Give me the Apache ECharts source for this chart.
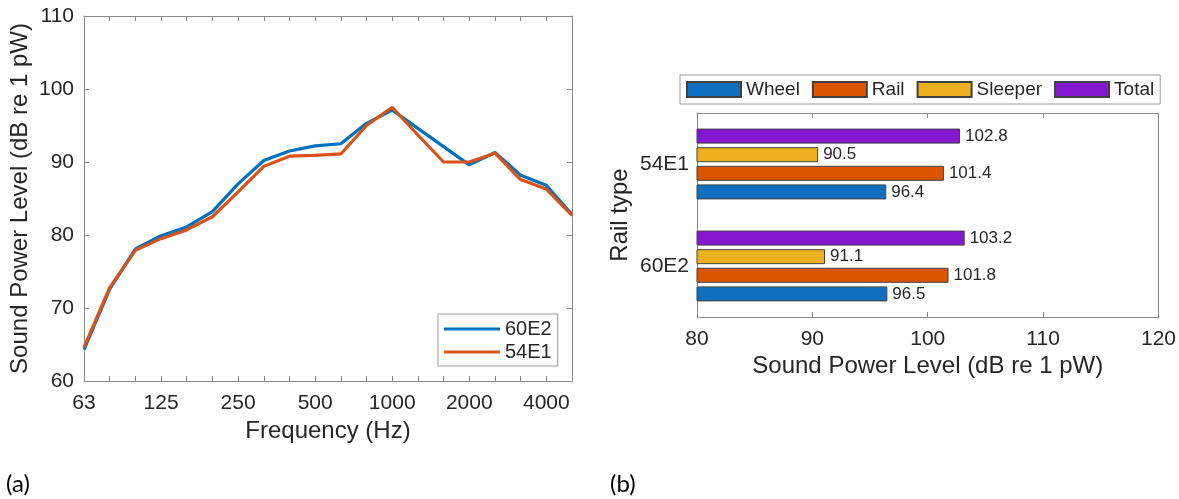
<!DOCTYPE html>
<html>
<head>
<meta charset="utf-8">
<script src="https://cdn.jsdelivr.net/npm/echarts@6/dist/echarts.min.js"></script>
<style>
  html, body { margin: 0; padding: 0; background: #fff; }
  #main { width: 1179px; height: 499px; }
</style>
</head>
<body>
<div id="main"></div>
<script>
// (a) spectrum, third-octave bands
const freqs = ['63', '80', '100', '125', '160', '200', '250', '315', '400', '500',
  '630', '800', '1000', '1250', '1600', '2000', '2500', '3150', '4000', '5000'];
const lw60E2 = [64.3, 72.6, 78.1, 79.9, 81.1, 83.2, 87.0, 90.2, 91.5, 92.2,
  92.5, 95.3, 97.1, 94.6, 92.1, 89.6, 91.3, 88.2, 86.8, 82.8];
const lw54E1 = [64.6, 72.8, 77.9, 79.5, 80.7, 82.5, 85.9, 89.4, 90.8, 90.9,
  91.1, 95.0, 97.5, 93.7, 90.0, 90.0, 91.2, 87.6, 86.3, 82.7];

// (b) totals per rail type
const railTypes = ['60E2', '54E1'];
const wheel = [96.5, 96.4];
const rail = [101.8, 101.4];
const sleeper = [91.1, 90.5];
const total = [103.2, 102.8];

const txt = '#262626';
const axisCol = '#8a8a8a';
const font = 'Liberation Sans, Arial, sans-serif';

let chart = echarts.init(document.getElementById('main'), null, {renderer: 'canvas'});

function barSeries(name, data, color) {
  return {
    name: name,
    type: 'bar',
    xAxisIndex: 2,
    yAxisIndex: 2,
    data: data,
    barWidth: 15,
    barGap: '24%',
    itemStyle: {color: color, borderColor: '#404040', borderWidth: 1},
    label: {
      show: true,
      position: 'right',
      distance: 5,
      color: txt,
      fontFamily: font,
      fontSize: 17
    }
  };
}

let option = {
  animation: false,
  textStyle: {fontFamily: font},
  grid: [
    {left: 84, top: 16, width: 488, height: 365},
    {left: 697, top: 113, width: 464, height: 204}
  ],
  xAxis: [
    {
      gridIndex: 0,
      type: 'category',
      data: freqs,
      boundaryGap: false,
      name: 'Frequency (Hz)',
      nameLocation: 'middle',
      nameGap: 38,
      nameTextStyle: {color: txt, fontSize: 24, fontFamily: font},
      axisLine: {lineStyle: {color: axisCol}},
      axisTick: {inside: true, length: 5, interval: 0, lineStyle: {color: axisCol}},
      axisLabel: {interval: 2, color: txt, fontSize: 21, fontFamily: font, margin: 12},
      splitLine: {show: false}
    },
    {
      gridIndex: 0,
      type: 'category',
      data: freqs,
      boundaryGap: false,
      position: 'top',
      axisLine: {lineStyle: {color: axisCol}},
      axisTick: {inside: true, length: 5, interval: 0, lineStyle: {color: axisCol}},
      axisLabel: {show: false}
    },
    {
      gridIndex: 1,
      type: 'value',
      min: 80,
      max: 120,
      interval: 10,
      name: 'Sound Power Level (dB re 1 pW)',
      nameLocation: 'middle',
      nameGap: 37,
      nameTextStyle: {color: txt, fontSize: 24, fontFamily: font},
      axisLine: {show: true, lineStyle: {color: axisCol}},
      axisTick: {show: true, inside: true, length: 5, lineStyle: {color: axisCol}},
      axisLabel: {color: txt, fontSize: 21, fontFamily: font, margin: 12},
      splitLine: {show: false}
    },
    {
      gridIndex: 1,
      type: 'value',
      min: 80,
      max: 120,
      interval: 10,
      position: 'top',
      axisLine: {show: true, lineStyle: {color: axisCol}},
      axisTick: {show: true, inside: true, length: 5, lineStyle: {color: axisCol}},
      axisLabel: {show: false},
      splitLine: {show: false}
    }
  ],
  yAxis: [
    {
      gridIndex: 0,
      type: 'value',
      min: 60,
      max: 110,
      interval: 10,
      name: 'Sound Power Level (dB re 1 pW)',
      nameLocation: 'middle',
      nameGap: 52,
      nameTextStyle: {color: txt, fontSize: 24, fontFamily: font},
      axisLine: {show: true, lineStyle: {color: axisCol}},
      axisTick: {show: true, inside: true, length: 5, lineStyle: {color: axisCol}},
      axisLabel: {color: txt, fontSize: 21, fontFamily: font, margin: 10},
      splitLine: {show: false}
    },
    {
      gridIndex: 0,
      type: 'value',
      min: 60,
      max: 110,
      interval: 10,
      position: 'right',
      axisLine: {show: true, lineStyle: {color: axisCol}},
      axisTick: {show: true, inside: true, length: 5, lineStyle: {color: axisCol}},
      axisLabel: {show: false},
      splitLine: {show: false}
    },
    {
      gridIndex: 1,
      type: 'category',
      data: railTypes,
      name: 'Rail type',
      nameLocation: 'middle',
      nameGap: 65,
      nameTextStyle: {color: txt, fontSize: 24, fontFamily: font},
      axisLine: {lineStyle: {color: axisCol}},
      axisTick: {inside: true, length: 5, alignWithLabel: true, lineStyle: {color: axisCol}},
      axisLabel: {color: txt, fontSize: 21, fontFamily: font, margin: 8}
    },
    {
      gridIndex: 1,
      type: 'category',
      data: railTypes,
      position: 'right',
      axisLine: {lineStyle: {color: axisCol}},
      axisTick: {inside: true, length: 5, alignWithLabel: true, lineStyle: {color: axisCol}},
      axisLabel: {show: false}
    }
  ],
  legend: [
    {
      data: ['60E2', '54E1'],
      orient: 'vertical',
      left: 438,
      top: 314,
      padding: [5, 6, 4, 6],
      icon: 'rect',
      itemWidth: 56,
      itemHeight: 3,
      itemGap: 3,
      borderColor: '#9a9a9a',
      borderWidth: 1,
      textStyle: {color: txt, fontSize: 20, fontFamily: font}
    },
    {
      data: ['Wheel', 'Rail', 'Sleeper', 'Total'],
      orient: 'horizontal',
      left: 680,
      top: 75,
      padding: [5, 6],
      icon: 'rect',
      itemWidth: 54,
      itemHeight: 15,
      itemGap: 12,
      borderColor: '#9a9a9a',
      borderWidth: 1,
      textStyle: {color: txt, fontSize: 19, fontFamily: font}
    }
  ],
  graphic: [
    {type: 'text', left: 6, top: 472, style: {text: '(a)', fill: '#000', font: '24px Lato, sans-serif'}},
    {type: 'text', left: 610, top: 472, style: {text: '(b)', fill: '#000', font: '24px Lato, sans-serif'}}
  ],
  series: [
    {
      name: '60E2',
      type: 'line',
      xAxisIndex: 0,
      yAxisIndex: 0,
      data: lw60E2,
      symbol: 'none',
      lineStyle: {width: 3.2, color: '#0072BD'},
      itemStyle: {color: '#0072BD'}
    },
    {
      name: '54E1',
      type: 'line',
      xAxisIndex: 0,
      yAxisIndex: 0,
      data: lw54E1,
      symbol: 'none',
      lineStyle: {width: 3.2, color: '#D95319'},
      itemStyle: {color: '#D95319'}
    },
    // first series sits on top of each group, so Total goes first
    barSeries('Total', total, '#8617D0'),
    barSeries('Sleeper', sleeper, '#EDB120'),
    barSeries('Rail', rail, '#DB5400'),
    barSeries('Wheel', wheel, '#0F70C0')
  ]
};

chart.setOption(option);
window.addEventListener('resize', function () {
  chart.resize();
});
</script>
</body>
</html>
